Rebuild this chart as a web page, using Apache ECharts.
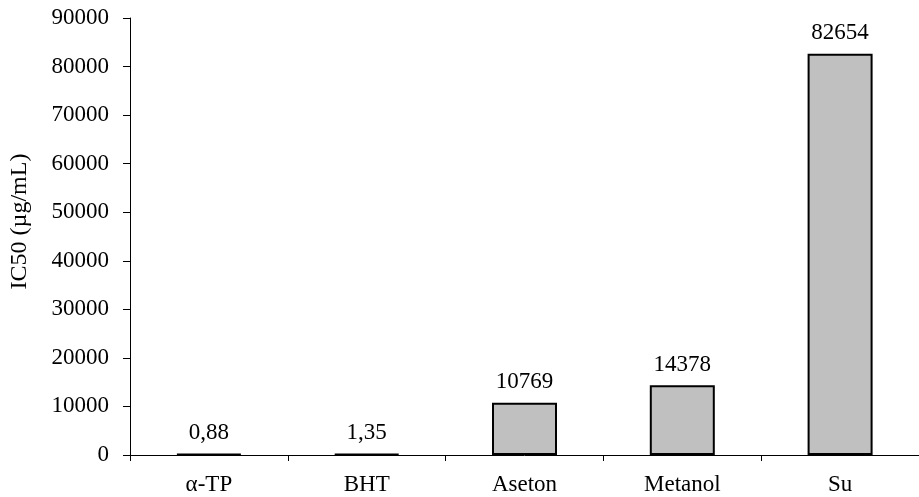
<!DOCTYPE html>
<html>
<head>
<meta charset="utf-8">
<script src="https://cdn.jsdelivr.net/npm/echarts@6/dist/echarts.min.js"></script>
<style>
html,body{margin:0;padding:0;background:#fff;}
#chart{width:919px;height:497px;}
</style>
</head>
<body>
<div id="chart"></div>
<script>
var categories = ['α-TP', 'BHT', 'Aseton', 'Metanol', 'Su'];
var values = [0.88, 1.35, 10769, 14378, 82654];
var valueLabels = ['0,88', '1,35', '10769', '14378', '82654'];
var yTicks = [0, 10000, 20000, 30000, 40000, 50000, 60000, 70000, 80000, 90000];
var yName = 'IC50 (µg/mL)';

var font = '"Liberation Serif", "Times New Roman", serif';
var chart = echarts.init(document.getElementById('chart'), null, {renderer: 'canvas'});
chart.setOption({
  animation: false,
  backgroundColor: '#ffffff',
  grid: {left: 130, right: -8, top: 18, bottom: 42},
  xAxis: {
    type: 'category',
    data: categories,
    axisLine: {lineStyle: {color: '#000', width: 1}},
    axisTick: {show: true, length: 6, lineStyle: {color: '#000'}},
    axisLabel: {color: '#000', fontFamily: font, fontSize: 23, margin: 18}
  },
  yAxis: {
    type: 'value',
    min: yTicks[0],
    max: yTicks[yTicks.length - 1],
    interval: 10000,
    name: yName,
    nameLocation: 'middle',
    nameGap: 98,
    nameRotate: 90,
    nameTextStyle: {color: '#000', fontFamily: font, fontSize: 24, padding: [0, 0, 0, 30]},
    axisLine: {show: true, lineStyle: {color: '#000', width: 1}},
    axisTick: {show: true, length: 7, lineStyle: {color: '#000'}},
    splitLine: {show: false},
    axisLabel: {
      color: '#000', fontFamily: font, fontSize: 23, margin: 21,
      formatter: function (v) { return String(v); }
    }
  },
  series: [{
    type: 'bar',
    data: values,
    barWidth: 65,
    barMinHeight: 1,
    itemStyle: {color: '#c0c0c0', borderColor: '#000', borderWidth: 2},
    label: {
      show: true,
      position: 'top',
      distance: 9,
      color: '#000',
      fontFamily: font,
      fontSize: 23,
      formatter: function (p) { return valueLabels[p.dataIndex]; }
    }
  }]
});
</script>
</body>
</html>
